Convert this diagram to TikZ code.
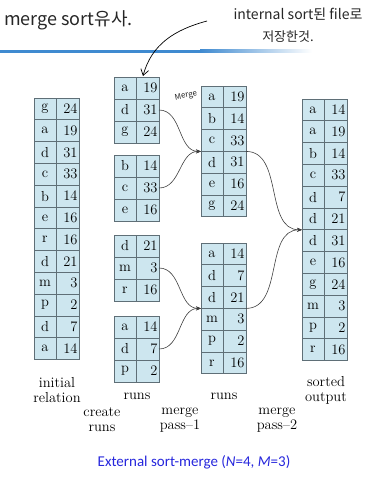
\documentclass[tikz,border=0pt]{standalone}
\usepackage{fontspec}
\newfontfamily\capfont{Carlito}
\newfontfamily\handfont{Noto Sans CJK KR}
\usepackage{xcolor}
\usetikzlibrary{arrows.meta,positioning,calc}
\definecolor{cellfill}{HTML}{CDE6EF}
\definecolor{celledge}{HTML}{5F6F77}
\definecolor{capblue}{HTML}{2626DC}
\definecolor{barblue}{HTML}{3F8AD0}

\begin{document}
\begin{tikzpicture}[
  x=1pt, y=-1pt,
  cell/.style = {draw=celledge, fill=cellfill, line width=0.8pt, inner sep=0pt,
    outer sep=0pt, font=\fontsize{14.5}{16}\selectfont},
  kcell/.style = {cell, minimum width=22pt},
  vcell/.style = {cell, minimum width=23pt, text width=20pt, align=right},
  lbl/.style = {align=center, inner sep=0pt, font=\fontsize{14.5}{15}\selectfont},
  hand/.style = {inner sep=1pt, text=black!85},
  arr/.style = {-{Stealth[length=5pt, width=4pt]}, line width=0.6pt, draw=black!75},
  handarr/.style = {-{Straight Barb[length=6pt, width=8pt]}, line width=0.7pt},
]
\useasboundingbox (0,0) rectangle (382,485);

% header bar of the slide
\fill[barblue] (0,49.5) rectangle (200,52.5);
\shade[left color=barblue, right color=white] (200,49.5) rectangle (312,52.5);

% tables: name / left x / top y / row height / rows
\foreach \tb/\x/\y/\h/\rows in {
    ini/34/98/21.8/{g/24,a/19,d/31,c/33,b/14,e/16,r/16,d/21,m/3,p/2,d/7,a/14},
    r1/114/77/22/{a/19,d/31,g/24},
    r2/114/155/22/{b/14,c/33,e/16},
    r3/114/235/22/{d/21,m/3,r/16},
    r4/114/316/22/{a/14,d/7,p/2},
    p1a/201/86/21.8/{a/19,b/14,c/33,d/31,e/16,g/24},
    p1b/201/243/21.8/{a/14,d/7,d/21,m/3,p/2,r/16},
    out/302/99/21.8/{a/14,a/19,b/14,c/33,d/7,d/21,d/31,e/16,g/24,m/3,p/2,r/16}} {
  \foreach \k/\v [count=\i] in \rows {
    \node[kcell, minimum height=\h pt, anchor=north west] (\tb-k\i)
      at (\x, {\y+\h*(\i-1)}) {\k};
    \node[vcell, minimum height=\h pt, right=0pt of \tb-k\i] (\tb-v\i) {\v};
  }
}

% merge pass-1
\draw[arr] (r1-v2.east) to[out=0, in=180] (p1a-k3.south west);
\draw[arr] (r2-v2.east) to[out=0, in=180] (p1a-k3.south west);
\draw[arr] (r3-v2.east) to[out=0, in=180] (p1b-k3.south west);
\draw[arr] (r4-v2.east) to[out=0, in=180] (p1b-k3.south west);
% merge pass-2
\draw[arr] (p1a-v3.south east) to[out=0, in=180] (out-k6.south west);
\draw[arr] (p1b-v3.south east) to[out=0, in=180] (out-k6.south west);

% labels
\node[lbl] (lab-ini) at (57,390) {initial\\relation};
\node[lbl] (lab-runs1) at (137,396) {runs};
\node[lbl] (lab-create) at (102,420) {create\\runs};
\node[lbl] (lab-mp1) at (180,420) {merge\\pass--1};
\node[lbl] (lab-runs2) at (224,396) {runs};
\node[lbl] (lab-mp2) at (277,420) {merge\\pass--2};
\node[lbl] (lab-out) at (326,390) {sorted\\output};

\node[text=capblue, font=\capfont\fontsize{15}{17}\selectfont] (caption) at (194,462)
  {External sort-merge (\textit{N}=4, \textit{M}=3)};

% handwritten notes
\node[hand, anchor=west, font=\handfont\fontsize{18}{20}\selectfont] (note-l) at (3,20) {merge sort유사.};
\node[hand, font=\handfont\fontsize{14}{16}\selectfont] (note-r1) at (298,14) {internal sort된 file로};
\node[hand, font=\handfont\fontsize{13}{15}\selectfont] (note-r2) at (288,37) {저장한것.};
\node[hand, rotate=12, font=\handfont\fontsize{8}{9}\selectfont] (note-m) at (186,96) {Merge};
\coordinate (hw-start) at (207,21);
\draw[handarr] (hw-start) to[out=195, in=75] ($(r1-v1.north west)+(7,-1)$);
\end{tikzpicture}
\end{document}
